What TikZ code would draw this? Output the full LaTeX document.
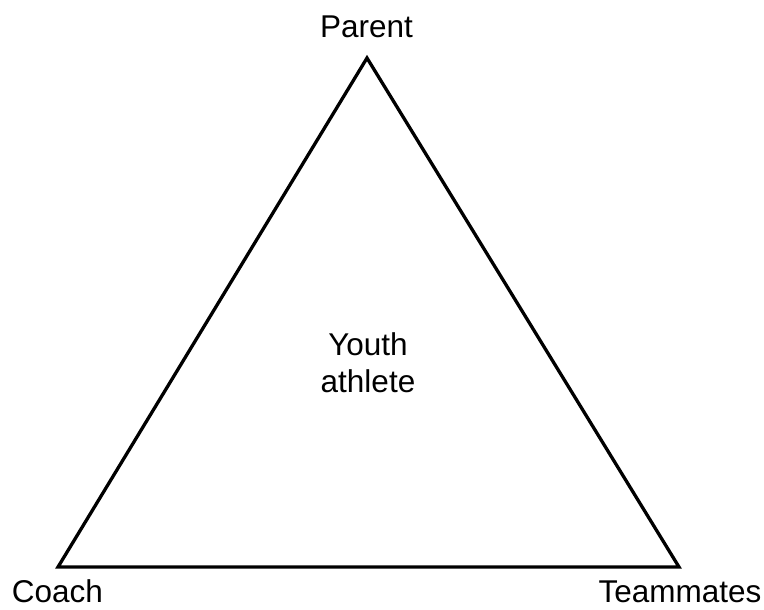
\documentclass[tikz,border=0pt]{standalone}
\usepackage{fontspec}
\setmainfont{Liberation Sans}
\begin{document}
\begin{tikzpicture}[x=1pt,y=-1pt,
  lbl/.style={inner sep=0pt,font=\fontsize{31.5}{37}\selectfont,anchor=base,align=center},
  edge/.style={line width=3.3pt,line join=miter}]
\useasboundingbox (0,0) rectangle (764,610);
\coordinate (top) at (367,58);
\coordinate (bl) at (58,567);
\coordinate (br) at (679,567);
\draw[edge] (top) -- (bl) -- (br) -- cycle;
\node[lbl] (parent) at (366.5,38) {Parent};
\node[lbl] (coach) at (57.5,602) {Coach};
\node[lbl] (team) at (680,602) {Teammates};
\node[lbl] (youth) at (368,392) {Youth\\athlete};
\end{tikzpicture}
\end{document}
